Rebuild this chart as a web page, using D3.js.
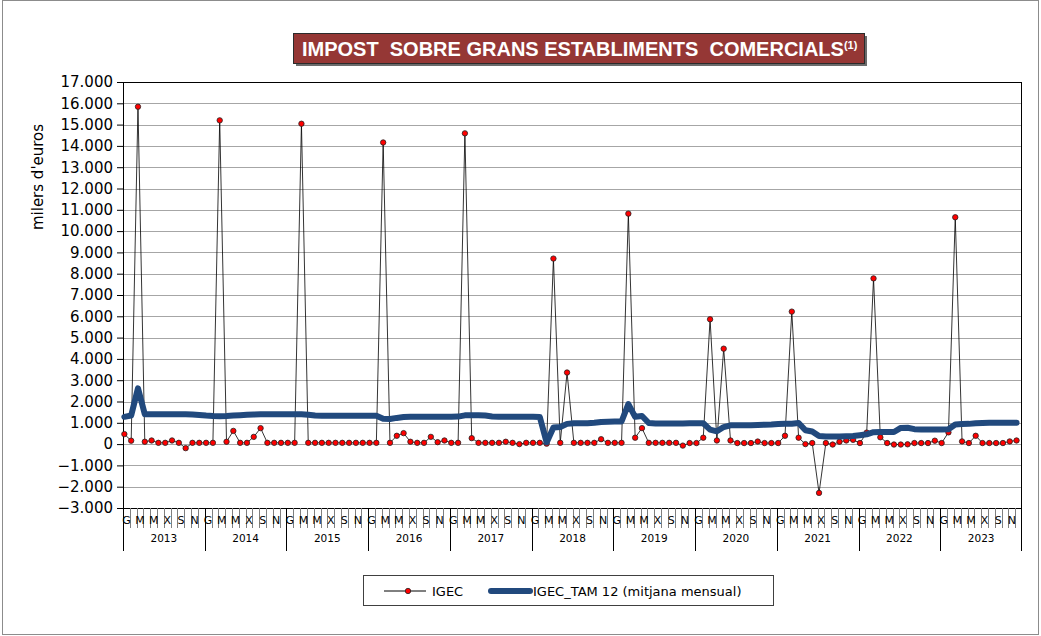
<!DOCTYPE html>
<html>
<head>
<meta charset="utf-8">
<script src="https://cdn.jsdelivr.net/npm/d3@7"></script>
<style>
  body { margin: 0; background: #fff; }
  svg { display: block; }
</style>
</head>
<body>
<div id="chart"></div>
<script>
// valors mensuals en milers d'euros
var years = ["2013", "2014", "2015", "2016", "2017", "2018", "2019", "2020", "2021", "2022", "2023"];
var monthLabels = ["G", "F", "M", "A", "M", "J", "X", "A", "S", "O", "N", "D"];
var yTicks = [-3000, -2000, -1000, 0, 1000, 2000, 3000, 4000, 5000, 6000, 7000, 8000,
  9000, 10000, 11000, 12000, 13000, 14000, 15000, 16000, 17000];

var igec = [
  470, 160, 15840, 110, 170, 60, 60, 170, 60, -190, 60, 60,
  60, 60, 15200, 110, 620, 60, 60, 340, 750, 60, 60, 60,
  60, 60, 15040, 60, 60, 60, 60, 60, 60, 60, 60, 60,
  60, 60, 14160, 60, 390, 515, 110, 60, 60, 340, 90, 170,
  60, 60, 14590, 280, 60, 60, 60, 60, 110, 60, 0, 60,
  60, 60, 20, 8710, 60, 3360, 60, 60, 60, 60, 230, 60,
  60, 60, 10820, 300, 750, 60, 60, 60, 60, 60, -70, 50,
  50, 300, 5860, 170, 4480, 170, 50, 50, 50, 120, 50, 50,
  50, 390, 6220, 300, 0, 50, -2290, 50, -20, 110, 170, 200,
  50, 540, 7780, 320, 50, -20, -20, -10, 50, 50, 50, 160,
  50, 550, 10650, 125, 50, 390, 50, 50, 50, 50, 125, 170
];

var tam = [
  1280, 1340, 2620, 1400, 1400, 1400, 1400, 1400, 1400, 1400, 1390, 1370,
  1340, 1320, 1310, 1320, 1340, 1360, 1380, 1390, 1400, 1400, 1400, 1400,
  1400, 1400, 1400, 1380, 1340, 1330, 1330, 1330, 1330, 1330, 1330, 1330,
  1330, 1330, 1190, 1180, 1230, 1270, 1280, 1280, 1280, 1280, 1280, 1280,
  1280, 1290, 1350, 1360, 1360, 1340, 1300, 1280, 1280, 1280, 1280, 1280,
  1280, 1270, 80, 780, 800, 950, 980, 980, 980, 1000, 1040, 1050,
  1060, 1060, 1880, 1280, 1320, 990, 970, 970, 970, 970, 970, 980,
  980, 980, 680, 600, 800, 880, 890, 890, 890, 900, 910, 920,
  940, 950, 960, 990, 650, 590, 380, 360, 360, 360, 370, 380,
  420, 460, 560, 570, 570, 570, 760, 770, 700, 690, 690, 690,
  690, 700, 920, 940, 950, 980, 990, 1000, 1000, 1000, 1000, 1000
];

var W = 1041, H = 636;
var margin = { top: 82, right: 19, bottom: 128, left: 123 };
var width = W - margin.left - margin.right,
  height = H - margin.top - margin.bottom;

var months = d3.range(igec.length);

var svg = d3.select("#chart").append("svg")
  .attr("width", W)
  .attr("height", H);

// marc exterior
svg.append("rect")
  .attr("x", 2.5).attr("y", 0.5)
  .attr("width", W - 5).attr("height", H - 2)
  .attr("fill", "none")
  .attr("stroke", "#8c8c8c");

// titol
var title = svg.append("g");
title.append("rect")
  .attr("x", 296).attr("y", 36)
  .attr("width", 571).attr("height", 30)
  .attr("fill", "#6b6b6b");
title.append("rect")
  .attr("x", 293.5).attr("y", 33.5)
  .attr("width", 571).attr("height", 30)
  .attr("fill", "#953735")
  .attr("stroke", "#2b2b2b");
var tt = title.append("text")
  .attr("x", 302).attr("y", 56)
  .attr("fill", "#fff")
  .attr("font-family", "Liberation Sans, Arial, sans-serif")
  .attr("font-weight", "bold")
  .attr("font-size", 20)
  .style("white-space", "pre");
tt.append("tspan").text("IMPOST  SOBRE GRANS ESTABLIMENTS  COMERCIALS");
tt.append("tspan").attr("font-size", 11).attr("dy", -7).text("(1)");

var g = svg.append("g")
  .attr("transform", "translate(" + margin.left + "," + margin.top + ")");

var x = d3.scaleBand().domain(months).range([0, width]).paddingInner(0).paddingOuter(0);
var bw = x.bandwidth();
var y = d3.scaleLinear().domain([-3000, 17000]).range([height, 0]);

var fmt = d3.formatLocale({ decimal: ",", thousands: ".", grouping: [3], currency: ["", "€"] }).format(",d");

// graella
g.append("g")
  .selectAll("line")
  .data(yTicks)
  .join("line")
  .attr("x1", 0).attr("x2", width)
  .attr("y1", function (d) { return Math.round(y(d)) + 0.5; })
  .attr("y2", function (d) { return Math.round(y(d)) + 0.5; })
  .attr("stroke", "#a6a6a6")
  .attr("stroke-width", 1);

// eix Y
var gY = g.append("g")
  .call(d3.axisLeft(y).tickValues(yTicks).tickFormat(fmt).tickSize(6).tickPadding(4));
gY.select(".domain").remove();
gY.selectAll(".tick line").attr("stroke", "#000");
gY.selectAll("text")
  .attr("font-family", "DejaVu Sans, sans-serif")
  .attr("font-size", 15)
  .attr("fill", "#000");

// marc de l'area
g.append("line").attr("x1", 0.5).attr("x2", 0.5).attr("y1", 0).attr("y2", height).attr("stroke", "#000");
g.append("line").attr("x1", 0).attr("x2", width).attr("y1", 0.5).attr("y2", 0.5).attr("stroke", "#000");
g.append("line").attr("x1", width - 0.5).attr("x2", width - 0.5).attr("y1", 0).attr("y2", height + 43).attr("stroke", "#000");
g.append("line").attr("x1", 0).attr("x2", width).attr("y1", Math.round(height) + 0.5).attr("y2", Math.round(height) + 0.5).attr("stroke", "#000");

// eix X: marques mensuals
var xAxis = g.append("g").attr("transform", "translate(0," + height + ")");
xAxis.selectAll("line.m")
  .data(months.slice(1))
  .join("line")
  .attr("class", "m")
  .attr("x1", function (d) { return Math.round(x(d)) + 0.5; })
  .attr("x2", function (d) { return Math.round(x(d)) + 0.5; })
  .attr("y1", 0).attr("y2", 20)
  .attr("stroke", "#7f7f7f");
xAxis.selectAll("text.m")
  .data(months.filter(function (d) { return d % 2 === 0; }))
  .join("text")
  .attr("class", "m")
  .attr("x", function (d) { return x(d) + bw / 2; })
  .attr("y", 16)
  .attr("text-anchor", "middle")
  .attr("font-family", "DejaVu Sans, sans-serif")
  .attr("font-size", 11)
  .text(function (d) { return monthLabels[d % 12]; });

// anys
xAxis.selectAll("line.y")
  .data(years)
  .join("line")
  .attr("class", "y")
  .attr("x1", function (d, i) { return Math.round(x(i * 12)) + 0.5; })
  .attr("x2", function (d, i) { return Math.round(x(i * 12)) + 0.5; })
  .attr("y1", 0).attr("y2", 43)
  .attr("stroke", "#000");
xAxis.selectAll("text.y")
  .data(years)
  .join("text")
  .attr("class", "y")
  .attr("x", function (d, i) { return x(i * 12) + bw * 6; })
  .attr("y", 34)
  .attr("text-anchor", "middle")
  .attr("font-family", "DejaVu Sans, sans-serif")
  .attr("font-size", 10.5)
  .text(function (d) { return d; });

// titol eix Y
svg.append("text")
  .attr("transform", "translate(43,177) rotate(-90)")
  .attr("text-anchor", "middle")
  .attr("font-family", "DejaVu Sans, sans-serif")
  .attr("font-size", 15)
  .text("milers d'euros");

var px = function (i) { return x(i) + bw * 0.2; };

// IGEC
g.append("path")
  .datum(igec)
  .attr("fill", "none")
  .attr("stroke", "#000")
  .attr("stroke-width", 0.8)
  .attr("d", d3.line().x(function (d, i) { return px(i); }).y(function (d) { return y(d); }));

g.append("g")
  .selectAll("circle")
  .data(igec)
  .join("circle")
  .attr("cx", function (d, i) { return px(i); })
  .attr("cy", function (d) { return y(d); })
  .attr("r", 2.7)
  .attr("fill", "#ff0000")
  .attr("stroke", "#222")
  .attr("stroke-width", 0.8);

// TAM 12
g.append("path")
  .datum(tam)
  .attr("fill", "none")
  .attr("stroke", "#21497d")
  .attr("stroke-width", 6)
  .attr("stroke-linejoin", "round")
  .attr("stroke-linecap", "round")
  .attr("d", d3.line().x(function (d, i) { return px(i); }).y(function (d) { return y(d); }));

// llegenda
var lg = svg.append("g");
lg.append("rect")
  .attr("x", 363.5).attr("y", 575.5)
  .attr("width", 410).attr("height", 30)
  .attr("fill", "#fff")
  .attr("stroke", "#404040");
lg.append("line").attr("x1", 384).attr("x2", 426).attr("y1", 591).attr("y2", 591).attr("stroke", "#000").attr("stroke-width", 1);
lg.append("circle").attr("cx", 408).attr("cy", 591).attr("r", 2.7).attr("fill", "#ff0000").attr("stroke", "#222").attr("stroke-width", 0.8);
lg.append("text").attr("x", 432).attr("y", 596)
  .attr("font-family", "DejaVu Sans, sans-serif").attr("font-size", 13).text("IGEC");
lg.append("line").attr("x1", 491).attr("x2", 530).attr("y1", 591).attr("y2", 591)
  .attr("stroke", "#21497d").attr("stroke-width", 6).attr("stroke-linecap", "round");
lg.append("text").attr("x", 533).attr("y", 596)
  .attr("font-family", "DejaVu Sans, sans-serif").attr("font-size", 13).text("IGEC_TAM 12 (mitjana mensual)");
</script>
</body>
</html>
